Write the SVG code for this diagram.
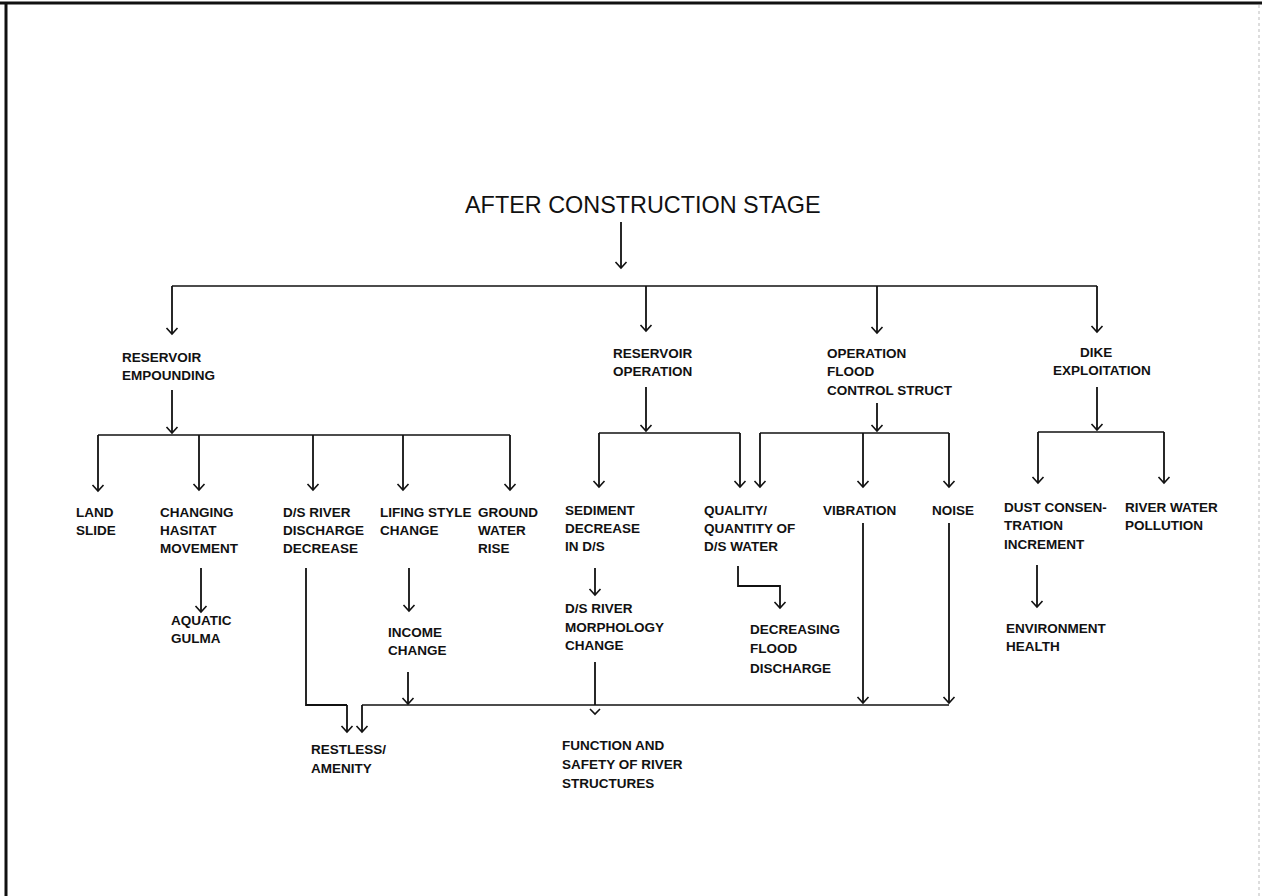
<svg xmlns="http://www.w3.org/2000/svg" width="1262" height="896" viewBox="0 0 1262 896">
<style>
.t{font-family:"Liberation Sans",Arial,sans-serif;font-weight:bold;font-size:13.5px;fill:#111}
.title{font-family:"Liberation Sans",Arial,sans-serif;font-size:23.4px;fill:#111}
.c{fill:none;stroke:#111;stroke-width:1.8}
.h{fill:none;stroke:#111;stroke-width:1.5}
.a{fill:none;stroke:#111;stroke-width:1.8;marker-end:url(#ah)}
</style>
<defs>
<marker id="ah" viewBox="-8 -7 10 14" refX="0" refY="0" markerWidth="10" markerHeight="14" markerUnits="userSpaceOnUse" orient="auto">
<path d="M-6,-5.5 L0,0 L-6,5.5" fill="none" stroke="#111" stroke-width="1.6"/>
</marker>
</defs>
<rect width="1262" height="896" fill="#fff"/>
<g id="frame">
<line x1="0" y1="3" x2="1262" y2="3" stroke="#111" stroke-width="3"/>
<line x1="6" y1="3" x2="6" y2="896" stroke="#111" stroke-width="3"/>
<line x1="1259" y1="5" x2="1259" y2="896" stroke="#bbb" stroke-width="1" stroke-dasharray="3,3"/>
</g>
<g id="connectors">
<path class="a" d="M621,222 V268"/>
<path class="h" d="M172,286 H1097"/>
<path class="a" d="M172,286 V334"/>
<path class="a" d="M646,286 V331"/>
<path class="a" d="M877,286 V333"/>
<path class="a" d="M1097,286 V332"/>
<path class="a" d="M172,390 V433"/>
<path class="h" d="M98,435 H510"/>
<path class="a" d="M98,435 V491"/>
<path class="a" d="M199,435 V490"/>
<path class="a" d="M313,435 V490"/>
<path class="a" d="M403,435 V490"/>
<path class="a" d="M510,435 V490"/>
<path class="a" d="M646,387 V431"/>
<path class="h" d="M599,433 H740"/>
<path class="a" d="M599,433 V487"/>
<path class="a" d="M740,433 V487"/>
<path class="a" d="M877,403 V431"/>
<path class="h" d="M760,433 H949"/>
<path class="a" d="M760,433 V487"/>
<path class="a" d="M863,433 V487"/>
<path class="a" d="M949,433 V487"/>
<path class="a" d="M1097,387 V430"/>
<path class="h" d="M1038,432 H1164"/>
<path class="a" d="M1038,432 V483"/>
<path class="a" d="M1164,432 V483"/>
<path class="a" d="M201,568 V612"/>
<path class="a" d="M409,568 V611"/>
<path class="a" d="M595,568 V595"/>
<path class="a" d="M738,566 V586 H780 V608"/>
<path class="a" d="M1037,565 V607"/>
<path class="c" d="M306,568 V705 H347"/>
<path class="a" d="M347,705 V732"/>
<path class="h" d="M362,705 H949"/>
<path class="a" d="M362,705 V732"/>
<path class="a" d="M408,672 V704"/>
<path class="a" d="M863,523 V703"/>
<path class="a" d="M949,523 V703"/>
<path class="c" d="M595,662 V705"/>
<path d="M590,709 L595,714 L600,709" fill="none" stroke="#111" stroke-width="1.6"/>
</g>
<g id="title"><text class="title" x="465" y="213">AFTER CONSTRUCTION STAGE</text></g>
<g id="n-res-emp"><text class="t" x="122" y="362">RESERVOIR</text><text class="t" x="122" y="380">EMPOUNDING</text></g>
<g id="n-res-op"><text class="t" x="613" y="358">RESERVOIR</text><text class="t" x="613" y="376">OPERATION</text></g>
<g id="n-op-flood"><text class="t" x="827" y="358">OPERATION</text><text class="t" x="827" y="376">FLOOD</text><text class="t" x="827" y="395">CONTROL STRUCT</text></g>
<g id="n-dike"><text class="t" x="1080" y="357">DIKE</text><text class="t" x="1053" y="375">EXPLOITATION</text></g>
<g id="n-land"><text class="t" x="76" y="517">LAND</text><text class="t" x="76" y="535">SLIDE</text></g>
<g id="n-habitat"><text class="t" x="160" y="517">CHANGING</text><text class="t" x="160" y="535">HASITAT</text><text class="t" x="160" y="553">MOVEMENT</text></g>
<g id="n-discharge"><text class="t" x="283" y="517">D/S RIVER</text><text class="t" x="283" y="535">DISCHARGE</text><text class="t" x="283" y="553">DECREASE</text></g>
<g id="n-lifing"><text class="t" x="380" y="517">LIFING STYLE</text><text class="t" x="380" y="535">CHANGE</text></g>
<g id="n-ground"><text class="t" x="478" y="517">GROUND</text><text class="t" x="478" y="535">WATER</text><text class="t" x="478" y="553">RISE</text></g>
<g id="n-sediment"><text class="t" x="565" y="515">SEDIMENT</text><text class="t" x="565" y="533">DECREASE</text><text class="t" x="565" y="551">IN D/S</text></g>
<g id="n-quality"><text class="t" x="704" y="515">QUALITY/</text><text class="t" x="704" y="533">QUANTITY OF</text><text class="t" x="704" y="551">D/S WATER</text></g>
<g id="n-vibration"><text class="t" x="823" y="515">VIBRATION</text></g>
<g id="n-noise"><text class="t" x="932" y="515">NOISE</text></g>
<g id="n-dust"><text class="t" x="1004" y="512">DUST CONSEN-</text><text class="t" x="1004" y="530">TRATION</text><text class="t" x="1004" y="549">INCREMENT</text></g>
<g id="n-river-pollution"><text class="t" x="1125" y="512">RIVER WATER</text><text class="t" x="1125" y="530">POLLUTION</text></g>
<g id="n-aquatic"><text class="t" x="171" y="625">AQUATIC</text><text class="t" x="171" y="643">GULMA</text></g>
<g id="n-income"><text class="t" x="388" y="637">INCOME</text><text class="t" x="388" y="655">CHANGE</text></g>
<g id="n-morph"><text class="t" x="565" y="613">D/S RIVER</text><text class="t" x="565" y="632">MORPHOLOGY</text><text class="t" x="565" y="650">CHANGE</text></g>
<g id="n-decreasing"><text class="t" x="750" y="634">DECREASING</text><text class="t" x="750" y="653">FLOOD</text><text class="t" x="750" y="673">DISCHARGE</text></g>
<g id="n-env"><text class="t" x="1006" y="633">ENVIRONMENT</text><text class="t" x="1006" y="651">HEALTH</text></g>
<g id="n-restless"><text class="t" x="311" y="754">RESTLESS/</text><text class="t" x="311" y="773">AMENITY</text></g>
<g id="n-function"><text class="t" x="562" y="750">FUNCTION AND</text><text class="t" x="562" y="769">SAFETY OF RIVER</text><text class="t" x="562" y="788">STRUCTURES</text></g>
</svg>
